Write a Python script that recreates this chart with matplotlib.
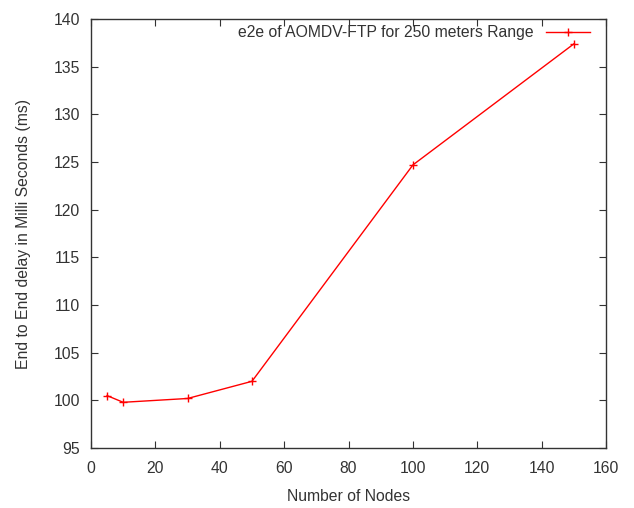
import matplotlib
matplotlib.use("Agg")
import matplotlib.pyplot as plt

# data
nodes = [5, 10, 30, 50, 100, 150]
delay = [100.5, 99.8, 100.2, 102.0, 124.7, 137.4]
series_label = "e2e of AOMDV-FTP for 250 meters Range"

plt.rcParams['font.family'] = ['Liberation Sans', 'DejaVu Sans']
plt.rcParams['font.size'] = 11.3

fig = plt.figure(figsize=(6.34, 5.08), dpi=100)
ax = fig.add_axes([0.1435, 0.118, 0.8125, 0.8445])

ax.plot(nodes, delay, color='red', linewidth=1.0, marker='+', markersize=6,
        markeredgewidth=1.0, label=series_label)

ax.set_xlim(0, 160)
ax.set_ylim(95, 140)
ax.set_xticks(range(0, 161, 20))
ax.set_yticks(range(95, 141, 5))
ax.tick_params(direction='in', top=True, right=True, length=5, pad=9,
               colors='#333333', labelcolor='#333333')
ax.tick_params(axis='y', pad=8)
for s in ax.spines.values():
    s.set_color('#333333')
    s.set_linewidth(1.0)

ax.set_xlabel("Number of Nodes", color='#333333', labelpad=10)
ax.set_ylabel("End to End delay in Milli Seconds (ms)", color='#333333', labelpad=16)

leg = ax.legend(loc='upper right', bbox_to_anchor=(0.9806, 1.0), frameon=False,
                markerfirst=False, handlelength=2.8, handletextpad=0.75,
                borderaxespad=0.0)
for t in leg.get_texts():
    t.set_color('#333333')

fig.savefig("out.png", dpi=100)
